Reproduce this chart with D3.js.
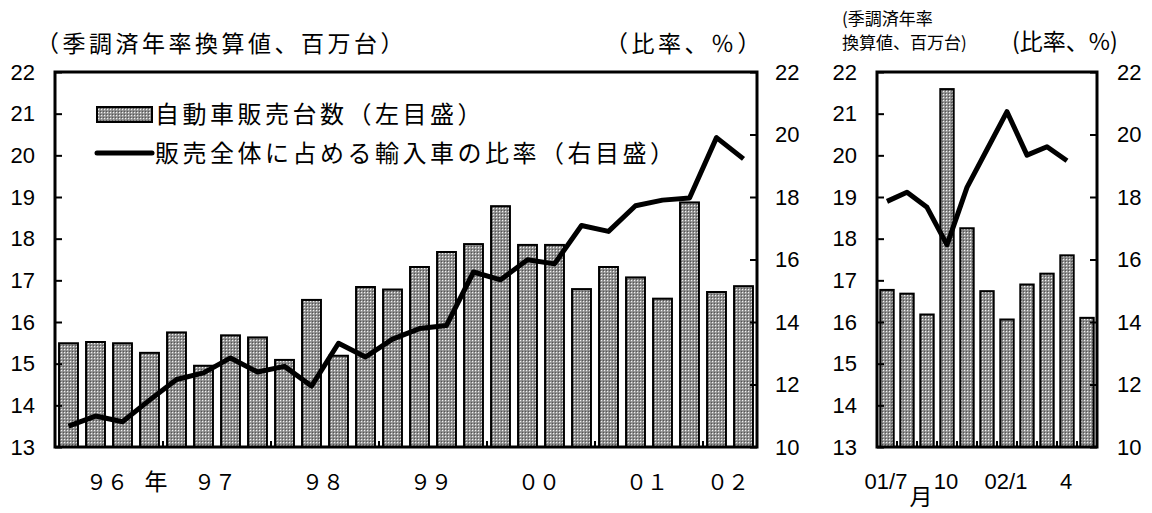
<!DOCTYPE html>
<html>
<head>
<meta charset="utf-8">
<script src="https://cdn.jsdelivr.net/npm/d3@7/dist/d3.min.js"></script>
<style>
  body { margin: 0; background: #fff; }
  svg { display: block; }
  .num { font-family: "Liberation Sans", Arial, sans-serif; font-size: 22px; fill: #000; }
  .jp { font-family: "Noto Sans CJK JP", sans-serif; fill: #000; }
</style>
</head>
<body>
<svg id="chart"></svg>
<script>
const width = 1152;
const height = 513;

// quarterly, 96Q1 - 02Q2
const quarters = ['96Q1','96Q2','96Q3','96Q4','97Q1','97Q2','97Q3','97Q4','98Q1','98Q2','98Q3','98Q4',
  '99Q1','99Q2','99Q3','99Q4','00Q1','00Q2','00Q3','00Q4','01Q1','01Q2','01Q3','01Q4','02Q1','02Q2'];
const salesQ = [15.49, 15.52, 15.49, 15.26, 15.75, 14.95, 15.68, 15.63, 15.09, 16.53, 15.19, 16.84,
  16.78, 17.32, 17.68, 17.87, 18.78, 17.85, 17.85, 16.79, 17.32, 17.07, 16.56, 18.87, 16.72, 16.86];
const importQ = [10.67, 10.99, 10.81, 11.5, 12.16, 12.37, 12.85, 12.4, 12.58, 11.95, 13.32, 12.88,
  13.45, 13.79, 13.89, 15.6, 15.35, 15.99, 15.86, 17.09, 16.9, 17.72, 17.9, 17.97, 19.9, 19.22];
const years = ['96', '97', '98', '99', '00', '01', '02'];
const yearLabels = ['９６', '９７', '９８', '９９', '００', '０１', '０２'];

// monthly, 01/7 - 02/5
const months = ['01/7','01/8','01/9','01/10','01/11','01/12','02/1','02/2','02/3','02/4','02/5'];
const salesM = [16.77, 16.68, 16.18, 21.59, 18.25, 16.74, 16.06, 16.9, 17.16, 17.6, 16.1];
const importM = [17.86, 18.15, 17.67, 16.47, 18.31, 19.52, 20.73, 19.34, 19.61, 19.16, null];
const monthTicks = ['01/7', '01/10', '02/1', '02/4'];
const monthTickLabels = ['01/7', '10', '02/1', '4'];

const leftTicks = d3.range(13, 23);
const rightTicks = d3.range(10, 23, 2);

const svg = d3.select('#chart')
  .attr('width', width)
  .attr('height', height);

const defs = svg.append('defs');
const pat = defs.append('pattern')
  .attr('id', 'dots')
  .attr('patternUnits', 'userSpaceOnUse')
  .attr('width', 3)
  .attr('height', 3);
pat.append('rect').attr('width', 3).attr('height', 3).attr('fill', '#8a8a8a');
pat.append('rect').attr('x', 1).attr('y', 1).attr('width', 1.2).attr('height', 1.2).attr('fill', '#f2f2f2');
pat.append('rect').attr('x', 0).attr('y', 0).attr('width', 1).attr('height', 1).attr('fill', '#555');

const plotTop = 72, plotBottom = 447;

function panel(opts) {
  const g = svg.append('g');
  const x = d3.scaleBand()
    .domain(opts.cats)
    .range([opts.x0, opts.x1])
    .paddingInner(opts.pad)
    .paddingOuter(opts.pad / 2);
  const yL = d3.scaleLinear().domain([13, 22]).range([plotBottom, plotTop]);
  const yR = d3.scaleLinear().domain([10, 22]).range([plotBottom, plotTop]);

  // bars
  g.append('g')
    .selectAll('rect')
    .data(opts.sales)
    .join('rect')
    .attr('x', (d, i) => x(opts.cats[i]))
    .attr('y', d => yL(d))
    .attr('width', x.bandwidth())
    .attr('height', d => yL(13) - yL(d))
    .attr('fill', 'url(#dots)')
    .attr('stroke', '#000')
    .attr('stroke-width', 2);

  // line
  const line = d3.line()
    .defined(d => d != null)
    .x((d, i) => x(opts.cats[i]) + x.bandwidth() / 2)
    .y(d => yR(d));
  g.append('path')
    .datum(opts.ratio)
    .attr('d', line)
    .attr('fill', 'none')
    .attr('stroke', '#000')
    .attr('stroke-width', 5)
    .attr('stroke-linejoin', 'round');

  // axes
  const axL = g.append('g')
    .attr('transform', `translate(${opts.x0},0)`)
    .call(d3.axisLeft(yL).tickValues(leftTicks).tickSize(-7).tickPadding(20).tickFormat(d3.format('d')));
  const axR = g.append('g')
    .attr('transform', `translate(${opts.x1},0)`)
    .call(d3.axisRight(yR).tickValues(rightTicks).tickSize(-7).tickPadding(opts.rpad).tickFormat(d3.format('d')));
  [axL, axR].forEach(a => {
    a.attr('font-family', null).attr('font-size', null);
    a.select('.domain').remove();
    a.selectAll('line').attr('stroke', '#000').attr('stroke-width', 2);
    a.selectAll('text').attr('class', 'num');
  });

  // small ticks on the bottom edge
  const step = x.step();
  g.append('g')
    .selectAll('line')
    .data(opts.bottomTicks)
    .join('line')
    .attr('x1', d => x(d) - step * opts.pad / 2)
    .attr('x2', d => x(d) - step * opts.pad / 2)
    .attr('y1', plotBottom)
    .attr('y2', plotBottom - 6)
    .attr('stroke', '#000')
    .attr('stroke-width', 2);

  // frame
  g.append('rect')
    .attr('x', opts.x0)
    .attr('y', plotTop)
    .attr('width', opts.x1 - opts.x0)
    .attr('height', plotBottom - plotTop)
    .attr('fill', 'none')
    .attr('stroke', '#000')
    .attr('stroke-width', 3);

  return { g, x };
}

// left panel
const left = panel({
  cats: quarters, sales: salesQ, ratio: importQ,
  x0: 55, x1: 757, pad: 0.3, rpad: 18,
  bottomTicks: quarters.filter(q => q.endsWith('Q1') && q !== '96Q1')
});

years.forEach((yr, i) => {
  const qs = quarters.filter(q => q.startsWith(yr));
  const cx = (left.x(qs[0]) + left.x(qs[qs.length - 1]) + left.x.bandwidth()) / 2;
  left.g.append('text')
    .attr('class', 'jp')
    .attr('x', cx - 2)
    .attr('y', 490)
    .attr('text-anchor', 'middle')
    .attr('font-size', 21)
    .text(yearLabels[i]);
  if (i === 0) {
    left.g.append('text')
      .attr('class', 'jp')
      .attr('x', cx + 47)
      .attr('y', 490)
      .attr('text-anchor', 'middle')
      .attr('font-size', 23)
      .text('年');
  }
});

// right panel
const right = panel({
  cats: months, sales: salesM, ratio: importM,
  x0: 877, x1: 1097, pad: 0.33, rpad: 20,
  bottomTicks: months.slice(1)
});

monthTicks.forEach((m, i) => {
  right.g.append('text')
    .attr('class', 'num')
    .attr('x', right.x(m) + right.x.bandwidth() / 2 - 1)
    .attr('y', 489)
    .attr('text-anchor', 'middle')
    .text(monthTickLabels[i]);
});
right.g.append('text')
  .attr('class', 'jp')
  .attr('x', 921)
  .attr('y', 505)
  .attr('text-anchor', 'middle')
  .attr('font-size', 23)
  .text('月');

// titles
svg.append('text').attr('class', 'jp')
  .attr('x', 36).attr('y', 52)
  .attr('font-size', 23).attr('letter-spacing', 3.5)
  .text('（季調済年率換算値、百万台）');
svg.append('text').attr('class', 'jp')
  .attr('x', 605).attr('y', 52)
  .attr('font-size', 23).attr('letter-spacing', 3.5)
  .text('（比率、％）');
svg.append('text').attr('class', 'jp')
  .attr('x', 842).attr('y', 25)
  .attr('font-size', 17)
  .text('(季調済年率');
svg.append('text').attr('class', 'jp')
  .attr('x', 842).attr('y', 49)
  .attr('font-size', 17)
  .text('換算値、百万台)');
svg.append('text').attr('class', 'jp')
  .attr('x', 1012).attr('y', 50)
  .attr('font-size', 23)
  .text('(比率、%)');

// legend
const legend = svg.append('g').attr('transform', 'translate(97,0)');
legend.append('rect')
  .attr('x', 0).attr('y', 107)
  .attr('width', 55).attr('height', 15)
  .attr('fill', 'url(#dots)')
  .attr('stroke', '#000')
  .attr('stroke-width', 2);
legend.append('text').attr('class', 'jp')
  .attr('x', 58).attr('y', 123)
  .attr('font-size', 24).attr('letter-spacing', 3.5)
  .text('自動車販売台数（左目盛）');
legend.append('line')
  .attr('x1', 0).attr('x2', 55)
  .attr('y1', 153).attr('y2', 153)
  .attr('stroke', '#000')
  .attr('stroke-width', 5)
  .attr('stroke-linecap', 'round');
legend.append('text').attr('class', 'jp')
  .attr('x', 58).attr('y', 162)
  .attr('font-size', 24).attr('letter-spacing', 3.5)
  .text('販売全体に占める輸入車の比率（右目盛）');
</script>
</body>
</html>
